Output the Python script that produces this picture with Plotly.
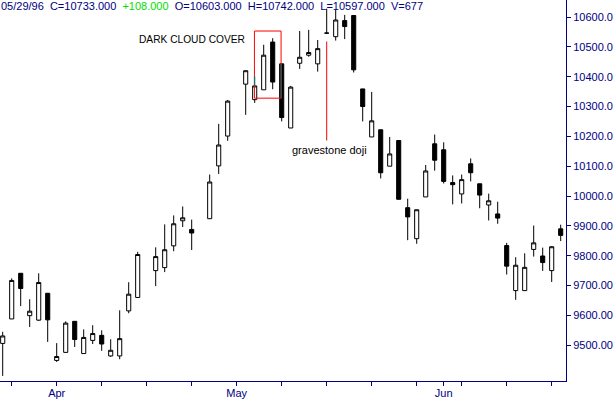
import plotly.graph_objects as go

# ---- data (trading-day index 0..62; None = empty slot) ----
opens = [9506, 9588, 9741, 9599, 9584, 9674, 9449, 9476, 9580, 9472,
         9516, 9533, 9464, 9464, 9615, 9660, None, 9750, 9760, 9833,
         9917, 9888, None, 9924, 10101, 10201, None, 10375, 10323, 10356,
         10516, 10443, 10228, 10445, 10472, 10443, 10546, 10534, 10588, 10605,
         10359, 10198, 10222, 10100, 10186, 9961, 9857, 9997, 10175, 10155,
         10045, 10007, 10108, 10041, 9970, 9940, 9834, 9683, 9683, 9821,
         9799, 9750, 9890]
highs = [9545, 9724, 9741, 9654, 9741, 9674, 9507, 9580, 9580, 9553,
         9567, 9550, 9520, 9617, 9711, 9813, None, 9828, 9905, 9935,
         9965, 9921, None, 10072, 10242, 10322, None, 10420, 10401, 10507,
         10529, 10443, 10369, 10553, 10557, 10523, 10628, 10624, 10607, 10605,
         10359, 10349, 10222, 10198, 10186, 9991, 9954, 10104, 10206, 10180,
         10069, 10072, 10126, 10041, 10008, 9981, 9843, 9795, 9808, 9901,
         9827, 9832, 9904]
lows = [9397, 9588, 9631, 9561, 9581, 9511, 9444, 9475, 9494, 9472,
        9504, 9481, 9461, 9453, 9607, 9659, None, 9698, 9745, 9815,
        9896, 9819, None, 9923, 10074, 10185, None, 10272, 10312, 10356,
        10358, 10250, 10228, 10426, 10467, 10417, 10545, 10521, 10526, 10414,
        10250, 10198, 10059, 10100, 9989, 9852, 9840, 9997, 10085, 10042,
        9972, 9975, 10049, 9959, 9918, 9907, 9737, 9652, 9683, 9797,
        9749, 9712, 9849]
closes = [9531, 9717, 9690, 9614, 9710, 9585, 9462, 9574, 9519, 9526,
          9539, 9504, 9483, 9522, 9671, 9804, None, 9797, 9820, 9907,
          9927, 9876, None, 10047, 10171, 10318, None, 10420, 10369, 10472,
          10382, 10263, 10365, 10465, 10481, 10494, 10546, 10590, 10568, 10423,
          10300, 10252, 10078, 10141, 9989, 9930, 9954, 10084, 10120, 10049,
          10038, 10055, 10078, 10003, 9984, 9926, 9765, 9768, 9761, 9843,
          9777, 9830, 9868]

week_ticks = [1, 6, 11, 16, 21, 26, 31, 36, 41, 46, 49, 51, 56, 61]
month_labels = {6: "Apr", 26: "May", 49: "Jun"}
y_ticks = [9500, 9600, 9700, 9800, 9900, 10000, 10100, 10200, 10300, 10400, 10500, 10600]

header_parts = ["05/29/96", "C=10733.000", "+108.000", "O=10603.000",
                "H=10742.000", "L=10597.000", "V=677"]

# ---- build ----
idx = [i for i in range(len(opens)) if opens[i] is not None]
NAVY = "#000080"
FONT = "Arial, 'Liberation Sans', sans-serif"

fig = go.Figure(go.Candlestick(
    x=idx,
    open=[opens[i] for i in idx],
    high=[highs[i] for i in idx],
    low=[lows[i] for i in idx],
    close=[closes[i] for i in idx],
    increasing=dict(fillcolor="white", line=dict(color="black", width=1)),
    decreasing=dict(fillcolor="black", line=dict(color="black", width=1)),
    hoverinfo="skip",
    showlegend=False,
))

# dark cloud cover box and markers
box_x0, box_x1, box_y0, box_y1 = 27.97, 30.93, 10328, 10553
fig.add_shape(type="rect", xref="x", yref="y", x0=box_x0, x1=box_x1, y0=box_y0, y1=box_y1,
              line=dict(color="red", width=1))
# overlap of box edge with black wicks/bodies shows teal in reference
fig.add_shape(type="line", xref="x", yref="y", x0=box_x0, x1=box_x0,
              y0=closes[28], y1=highs[28], line=dict(color="#008080", width=1))
fig.add_shape(type="line", xref="x", yref="y", x0=box_x1, x1=box_x1,
              y0=box_y0, y1=opens[31], line=dict(color="#008080", width=1))
# gravestone doji pointer
fig.add_shape(type="line", xref="x", yref="y", x0=36, x1=36, y0=10186, y1=10518,
              line=dict(color="red", width=1))

fig.add_annotation(x=14.9, y=10526, xref="x", yref="y", text="DARK CLOUD COVER",
                   showarrow=False, xanchor="left", yanchor="middle",
                   font=dict(family=FONT, size=10.2, color="black"))
fig.add_annotation(x=31.9, y=10154, xref="x", yref="y", text="gravestone doji",
                   showarrow=False, xanchor="left", yanchor="middle",
                   font=dict(family=FONT, size=11, color="black"))

sep = "\u00a0\u00a0"
header = sep.join(
    (f"<span style='color:#00dd00'>{p}</span>" if p.startswith("+") or p.startswith("-") else p)
    for p in header_parts)
fig.add_annotation(x=0, y=1, xref="paper", yref="paper", text=header, showarrow=False,
                   xanchor="left", yanchor="top", xshift=-1, yshift=2,
                   font=dict(family=FONT, size=11, color=NAVY))

fig.update_layout(
    width=613, height=399,
    margin=dict(l=0, r=47, t=0, b=18),
    paper_bgcolor="white", plot_bgcolor="white",
    boxgap=0.35, boxgroupgap=0.3,
    xaxis=dict(
        range=[-0.3, 62.59], rangeslider=dict(visible=False),
        showgrid=False, zeroline=False,
        showline=True, linecolor=NAVY, linewidth=1,
        ticks="outside", ticklen=4, tickcolor=NAVY, tickwidth=1,
        tickvals=week_ticks,
        ticktext=[month_labels.get(t, "") for t in week_ticks],
        tickfont=dict(family=FONT, size=11, color=NAVY),
        ticklabelstandoff=-2,
        automargin=False,
    ),
    yaxis=dict(
        range=[9380, 10657], side="right",
        showgrid=False, zeroline=False,
        showline=True, linecolor=NAVY, linewidth=1,
        ticks="outside", ticklen=4, tickcolor=NAVY, tickwidth=1,
        tickvals=y_ticks, tickformat=".3f",
        tickfont=dict(family=FONT, size=11, color=NAVY),
        automargin=False,
    ),
)

fig.write_html("out.html",
               config={"displayModeBar": False},
               post_script="document.body.style.margin='0';document.body.style.overflow='hidden';")
